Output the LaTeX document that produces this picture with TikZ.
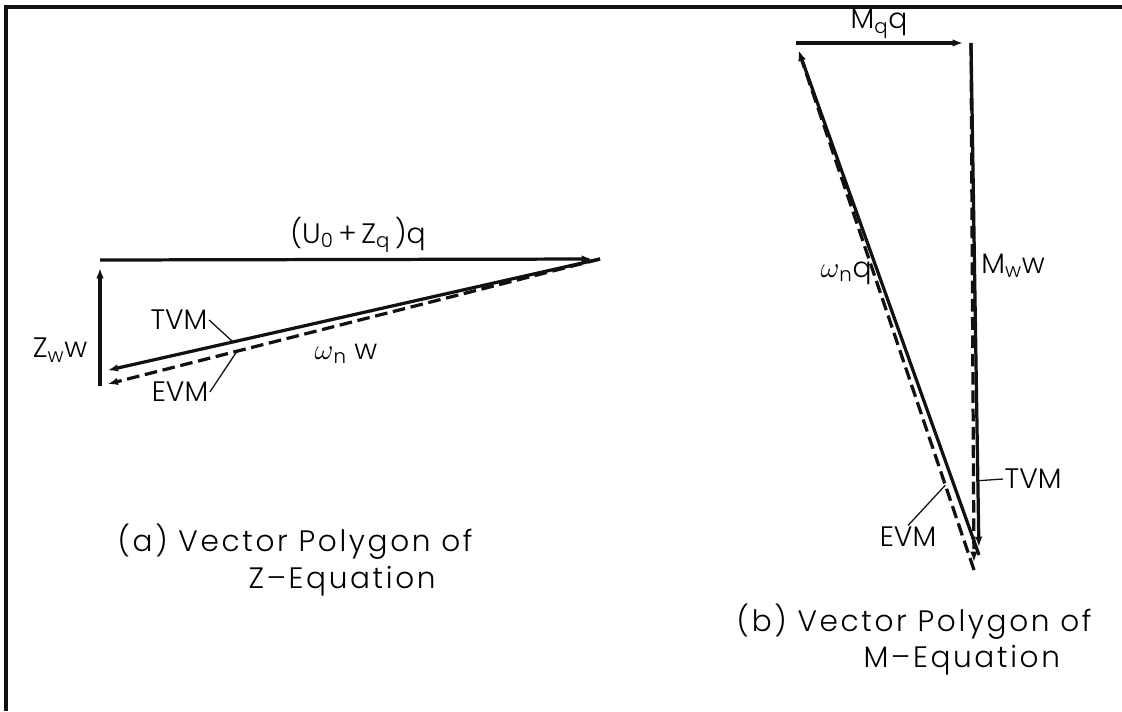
\documentclass[tikz,border=0pt]{standalone}
\usepackage{fontspec}
\setmainfont{Poppins}[UprightFont=* Light]
\usetikzlibrary{arrows.meta,calc,positioning}
\definecolor{ink}{HTML}{111111}
\tikzset{>={Latex[length=13pt,width=4.5pt]},line width=2.3pt,
  every node/.style={font=\fontsize{20}{24}\selectfont,inner sep=1pt},
  frame/.style={draw=ink,line width=2.2pt},
  tvm/.style={->,draw=ink,line width=2.3pt},
  evm/.style={->,draw=ink,line width=2.3pt,dash pattern=on 9pt off 4pt},
  leader/.style={draw=ink,line width=.9pt},
  caption/.style={anchor=west,font=\fontsize{21}{25}\selectfont\addfontfeatures{LetterSpace=9}}}
\newcommand{\lo}[1]{\textsubscript{#1}}
\begin{document}
\begin{tikzpicture}[x=.025cm,y=-.025cm]
\useasboundingbox (0,0) rectangle (1122,711);
\draw[frame] (1122,7) -- (6,7) -- (6,711);
% (a) Z-equation
\coordinate (aTL) at (100,260);
\coordinate (aTR) at (600,259);
\coordinate (aBt) at (100,372);
\coordinate (aBe) at (100,386);
\draw[tvm] (aBe) -- (aTL);
\draw[tvm] (aTL) -- (aTR);
\draw[tvm] (aTR) -- (aBt);
\draw[evm] (aTR) -- (aBe);
\node (uq) at (358,235) {(U\lo{0}\,+\,Z\lo{q}\,)q};
\node (zw) at (60,350) {Z\lo{w}w};
\node (omA) at (346,354) {$\omega$\lo{n} w};
\node (tvmA) at (179,320) {TVM};
\node (evmA) at (180,392) {EVM};
\coordinate (tvmApt) at ($(aBt)!.266!(aTR)$);
\coordinate (evmApt) at ($(aBe)!.274!(aTR)$);
\draw[leader] (tvmA.east) -- (tvmApt);
\draw[leader] (evmA.east) -- (evmApt);
\node[caption] (capA1) at (116,542) {(a) Vector Polygon of};
\node[caption] (capA2) at (247,581) {Z--Equation};
% (b) M-equation
\coordinate (bTL) at (796,43);
\coordinate (bTR) at (971,43);
\coordinate (bBt) at (979,555);
\coordinate (bBe) at (974,570);
\draw[tvm] (bTL) -- (bTR);
\draw[tvm] (bTR) -- (bBt);
\draw[evm] (bTR) -- (bBe);
\draw[tvm] (bBt) -- (bTL);
\draw[evm] (bBe) -- (bTL);
\node (mq) at (879,24) {M\lo{q}q};
\node (mw) at (1013,266) {M\lo{w}w};
\node (omB) at (846,273) {$\omega$\lo{n}q};
\node[anchor=west] (tvmB) at (1003,479) {TVM};
\node (evmB) at (908,537) {EVM};
\coordinate (tvmBpt) at ($(bTR)!.855!(bBt)$);
\coordinate (evmBpt) at ($(bTL)!.839!(bBe)$);
\draw[leader] (tvmBpt) -- (tvmB.west);
\draw[leader] (evmBpt) -- (evmB.north);
\node[caption] (capB1) at (735,622) {(b) Vector Polygon of};
\node[caption] (capB2) at (862,660) {M--Equation};
\end{tikzpicture}
\end{document}
